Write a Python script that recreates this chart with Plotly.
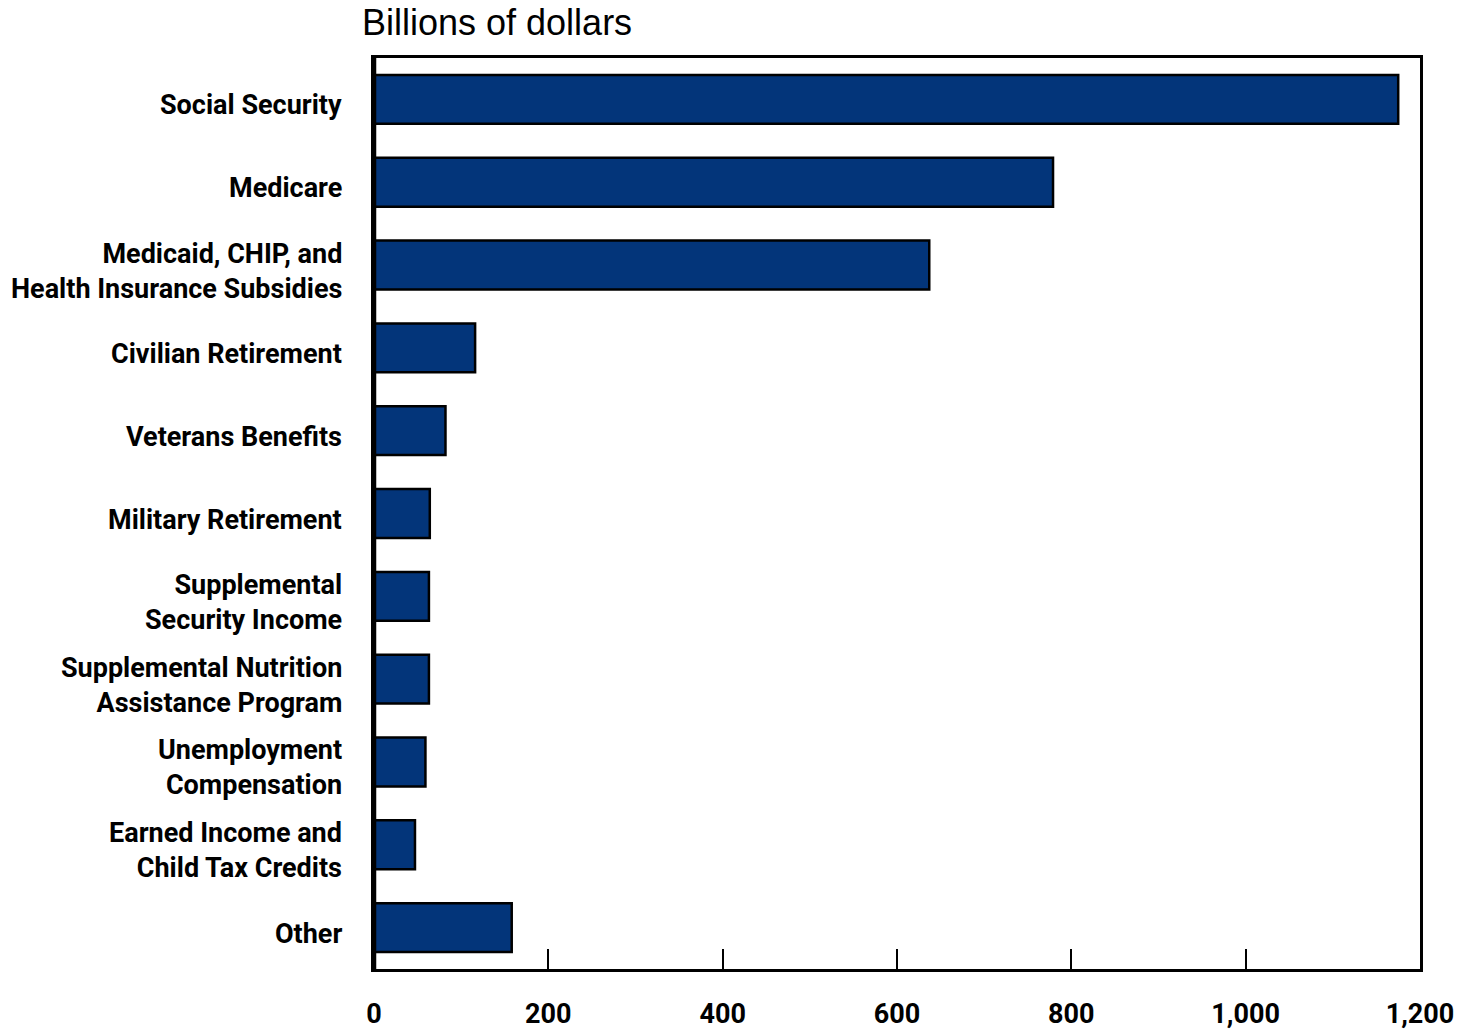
import plotly.graph_objects as go

categories = [
    "Social Security",
    "Medicare",
    "Medicaid, CHIP, and<br>Health Insurance Subsidies",
    "Civilian Retirement",
    "Veterans Benefits",
    "Military Retirement",
    "Supplemental<br>Security Income",
    "Supplemental Nutrition<br>Assistance Program",
    "Unemployment<br>Compensation",
    "Earned Income and<br>Child Tax Credits",
    "Other",
]
values = [1175, 779, 637, 116, 82, 64, 63, 63, 59, 47, 158]
x_ticks = [0, 200, 400, 600, 800, 1000, 1200]
x_tick_text = ["0", "200", "400", "600", "800", "1,000", "1,200"]

label_font = dict(family="Roboto, Liberation Sans, Arial, sans-serif",
                  size=27, color="black", weight="bold")

fig = go.Figure()
fig.add_trace(go.Bar(
    y=categories,
    x=values,
    orientation="h",
    width=0.59,
    marker=dict(color="#03357A", line=dict(color="black", width=2.5)),
    hoverinfo="x+y",
))

fig.update_layout(
    width=1463,
    height=1030,
    margin=dict(l=374, r=43, t=58, b=61),
    paper_bgcolor="white",
    plot_bgcolor="white",
    showlegend=False,
    bargap=0.41,
)

fig.update_xaxes(
    range=[0, 1200],
    tickvals=x_ticks,
    ticktext=x_tick_text,
    ticks="inside",
    ticklen=20,
    tickwidth=1.5,
    tickcolor="black",
    showgrid=False,
    zeroline=False,
    showline=True,
    linecolor="black",
    linewidth=3,
    mirror=True,
    tickfont=label_font,
    ticklabelstandoff=19,
    automargin=False,
    fixedrange=True,
)

fig.update_yaxes(
    type="category",
    categoryorder="array",
    categoryarray=categories,
    range=[10.5, -0.5],
    ticks="",
    showticklabels=False,
    showgrid=False,
    zeroline=False,
    showline=True,
    linecolor="black",
    linewidth=3,
    mirror=True,
    automargin=False,
    fixedrange=True,
)

# category labels (slightly lowered relative to bar centres, as in the original)
for cat in categories:
    fig.add_annotation(
        text=cat,
        xref="paper", yref="y",
        x=0, y=cat,
        xanchor="right", yanchor="middle",
        xshift=-30, yshift=-6,
        align="right",
        showarrow=False,
        font=label_font,
    )

# thicker left axis line
fig.add_shape(type="line", xref="x", yref="paper", x0=0, x1=0, y0=0, y1=1,
              line=dict(color="black", width=4.5))

fig.add_annotation(
    text="Billions of dollars",
    xref="paper", yref="paper",
    x=-0.0134, y=1.0395,
    xanchor="left", yanchor="middle",
    showarrow=False,
    font=dict(family="Liberation Sans, Arial, sans-serif", size=36, color="black"),
)

fig.write_html(
    "out.html",
    config={"displayModeBar": False},
    post_script="document.body.style.margin='0';document.body.style.overflow='hidden';",
)
